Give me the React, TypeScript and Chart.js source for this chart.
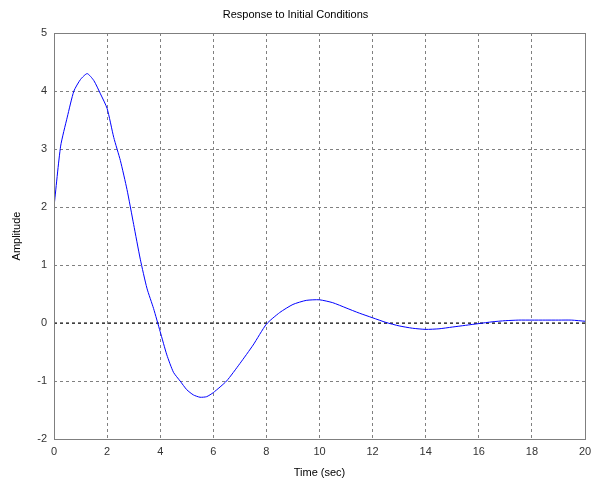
import React, { useEffect, useRef } from "react";
import { Chart, registerables } from "chart.js";

Chart.register(...registerables);

// Time samples (s) and the initial-condition response amplitude
const timeSec: number[] = [
  0, 0.25, 0.5, 0.75, 1.0, 1.25, 1.5, 1.75, 2.0, 2.25, 2.5, 2.75, 3.0, 3.25, 3.5, 3.75,
  4.0, 4.25, 4.5, 4.75, 5.0, 5.25, 5.5, 5.75, 6.0, 6.5, 7.0, 7.5, 8.0, 8.5, 9.0, 9.5,
  10.0, 10.5, 11.0, 11.5, 12.0, 12.5, 13.0, 13.5, 14.0, 14.5, 15.0, 15.5, 16.0, 16.5,
  17.0, 17.5, 18.0, 18.5, 19.0, 19.5, 20.0,
];
const amplitude: number[] = [
  2.0, 3.05, 3.55, 4.0, 4.2, 4.3, 4.18, 3.95, 3.7, 3.2, 2.8, 2.3, 1.7, 1.1, 0.6, 0.25,
  -0.15, -0.55, -0.85, -1.0, -1.15, -1.24, -1.28, -1.27, -1.2, -1.0, -0.7, -0.38, -0.02, 0.18, 0.32, 0.39,
  0.4, 0.35, 0.26, 0.17, 0.09, 0.01, -0.05, -0.09, -0.11, -0.1, -0.07, -0.04, -0.01, 0.02,
  0.04, 0.05, 0.05, 0.05, 0.05, 0.05, 0.03,
];

// Zero reference line across the time span
const zeroLineTime: number[] = [0, 20];
const zeroLineValue: number[] = [0, 0];

const titleText = "Response to Initial Conditions";
const xAxisLabel = "Time (sec)";
const yAxisLabel = "Amplitude";

const FONT = "Arial, 'Liberation Sans', sans-serif";

// Draws the full rectangular frame around the plot area
const frameBox = {
  id: "frameBox",
  afterDatasetsDraw(chart: any) {
    const { ctx, chartArea } = chart;
    ctx.save();
    ctx.strokeStyle = "#7f7f7f";
    ctx.lineWidth = 1;
    ctx.setLineDash([]);
    ctx.strokeRect(
      Math.round(chartArea.left) + 0.5,
      Math.round(chartArea.top) + 0.5,
      Math.round(chartArea.right - chartArea.left),
      Math.round(chartArea.bottom - chartArea.top)
    );
    ctx.restore();
  },
};

export default function App() {
  const canvasRef = useRef<HTMLCanvasElement | null>(null);

  useEffect(() => {
    if (!canvasRef.current) return;
    const chart = new Chart(canvasRef.current, {
      type: "line",
      data: {
        datasets: [
          {
            label: "zero",
            data: zeroLineTime.map((t, i) => ({ x: t, y: zeroLineValue[i] })),
            borderColor: "#000000",
            borderWidth: 1,
            borderDash: [3, 3],
            pointRadius: 0,
            order: 2,
          },
          {
            label: "response",
            data: timeSec.map((t, i) => ({ x: t, y: amplitude[i] })),
            borderColor: "#0000ff",
            borderWidth: 1,
            pointRadius: 0,
            tension: 0.2,
            order: 1,
          },
        ],
      },
      options: {
        responsive: false,
        animation: false,
        layout: { padding: 0 },
        plugins: {
          legend: { display: false },
          tooltip: { enabled: false },
          title: {
            display: true,
            text: titleText,
            color: "#000000",
            font: { family: FONT, size: 11, weight: "normal", lineHeight: 1.2 },
            padding: { top: 8.4, bottom: 11.4 },
          },
        },
        scales: {
          x: {
            type: "linear",
            min: 0,
            max: 20,
            afterFit: (scale: any) => {
              scale.height = 42;
              scale.paddingLeft = 0;
              scale.paddingRight = 6;
            },
            ticks: {
              stepSize: 2,
              color: "#333333",
              padding: 6,
              maxRotation: 0,
              font: { family: FONT, size: 11 },
            },
            grid: { color: "#808080", lineWidth: 1, drawTicks: false },
            border: { display: false, dash: [3, 3] },
            title: {
              display: true,
              text: xAxisLabel,
              color: "#000000",
              font: { family: FONT, size: 11, lineHeight: 1.2 },
              padding: { top: 0, bottom: 1.4 },
            },
          },
          y: {
            type: "linear",
            min: -2,
            max: 5,
            afterFit: (scale: any) => {
              scale.width = 54;
            },
            ticks: {
              stepSize: 1,
              color: "#333333",
              padding: 7,
              font: { family: FONT, size: 11 },
            },
            grid: { color: "#808080", lineWidth: 1, drawTicks: false },
            border: { display: false, dash: [3, 3] },
            title: {
              display: true,
              text: yAxisLabel,
              color: "#000000",
              font: { family: FONT, size: 11, lineHeight: 1.2 },
              padding: { top: 10.4, bottom: 0 },
            },
          },
        },
      },
      plugins: [frameBox],
    });
    return () => chart.destroy();
  }, []);

  return (
    <div
      style={{
        position: "fixed",
        left: 0,
        top: 0,
        width: 591,
        height: 481,
        background: "#ffffff",
      }}
    >
      <canvas ref={canvasRef} width={591} height={481} />
    </div>
  );
}
